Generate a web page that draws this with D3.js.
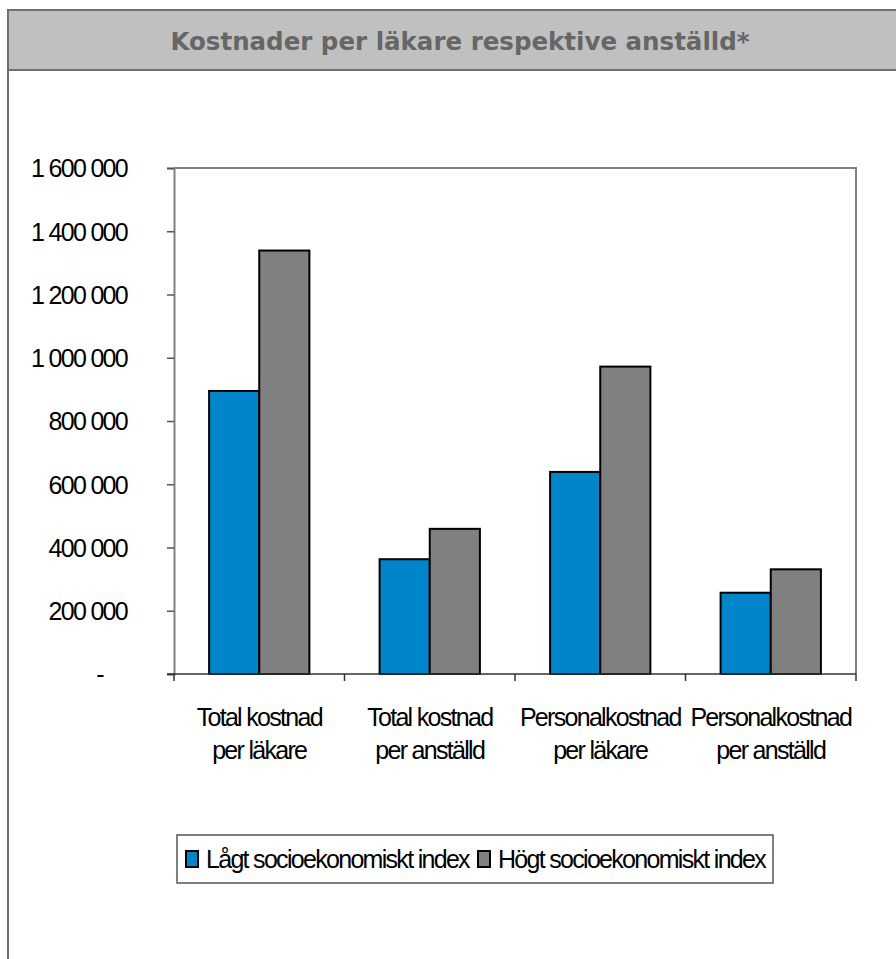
<!DOCTYPE html>
<html><head><meta charset="utf-8">
<script src="https://cdn.jsdelivr.net/npm/d3@7"></script>
<style>
html,body{margin:0;padding:0;background:#fff;}
svg{display:block;}
</style></head>
<body>
<script>
const title = "Kostnader per läkare respektive anställd*";
const categories = [
  ["Total kostnad", "per läkare"],
  ["Total kostnad", "per anställd"],
  ["Personalkostnad", "per läkare"],
  ["Personalkostnad", "per anställd"]
];
const seriesNames = ["Lågt socioekonomiskt index", "Högt socioekonomiskt index"];
const seriesColors = ["#0084CA", "#808080"];
const lowValues = [895000, 363000, 639000, 257000];
const highValues = [1339000, 459000, 972000, 331000];
const yTicks = [0, 200000, 400000, 600000, 800000, 1000000, 1200000, 1400000, 1600000];
const yTickLabels = ["-", "200 000", "400 000", "600 000", "800 000", "1 000 000", "1 200 000", "1 400 000", "1 600 000"];

const W = 896, H = 959;
const svg = d3.select("body").append("svg").attr("width", W).attr("height", H);

// outer frame
svg.append("rect").attr("x", 8).attr("y", 10).attr("width", 900).attr("height", 960)
  .attr("fill", "#fff").attr("stroke", "#707070").attr("stroke-width", 2);
// header band
svg.append("rect").attr("x", 8).attr("y", 10).attr("width", 900).attr("height", 60)
  .attr("fill", "#C0C0C0").attr("stroke", "#707070").attr("stroke-width", 2);
svg.append("text").attr("x", 460).attr("y", 50).attr("text-anchor", "middle")
  .attr("font-family", "DejaVu Sans, Verdana, sans-serif").attr("font-weight", "bold")
  .attr("font-size", 24.5).attr("fill", "#666666").text(title);

const plot = {left: 174, right: 856, top: 168, bottom: 674};
const keys = categories.map((c, i) => i);
const x0 = d3.scaleBand().domain(keys).range([plot.left, plot.right]).paddingInner(0).paddingOuter(0);
const x1 = d3.scaleBand().domain([0, 1]).range([0, x0.bandwidth()]).paddingInner(0).paddingOuter(0.7);
const y = d3.scaleLinear().domain([0, 1600000]).range([plot.bottom, plot.top]);

const fontAxis = "Liberation Sans, Arial, sans-serif";
const fs = 25, ls = "-1.7px";

// plot border top & right
svg.append("path").attr("d", `M${plot.left},${plot.top}H${plot.right}V${plot.bottom}`)
  .attr("fill", "none").attr("stroke", "#808080").attr("stroke-width", 2);

// bars
const data = [];
keys.forEach(k => {
  data.push({k, s: 0, v: lowValues[k]});
  data.push({k, s: 1, v: highValues[k]});
});
svg.append("g").selectAll("rect").data(data).join("rect")
  .attr("x", d => x0(d.k) + x1(d.s))
  .attr("y", d => y(d.v))
  .attr("width", x1.bandwidth())
  .attr("height", d => y(0) - y(d.v))
  .attr("fill", d => seriesColors[d.s])
  .attr("stroke", "#000").attr("stroke-width", 2);

// y axis
const yAxis = d3.axisLeft(y).tickValues(yTicks).tickSize(7).tickPadding(40)
  .tickFormat((d, i) => yTickLabels[i]);
const gy = svg.append("g").attr("transform", `translate(${plot.left},0)`).call(yAxis);
gy.select(".domain").attr("stroke", "#808080").attr("stroke-width", 2);
gy.selectAll(".tick line").attr("stroke", "#555").attr("stroke-width", 1.5);
gy.selectAll(".tick text").attr("font-family", fontAxis).attr("font-size", fs)
  .attr("letter-spacing", ls).attr("fill", "#000").attr("dy", "0.35em")
  .attr("dx", (d) => d === 0 ? -24 : 0);

// x axis
svg.append("line").attr("x1", plot.left - 7).attr("x2", plot.right).attr("y1", plot.bottom).attr("y2", plot.bottom)
  .attr("stroke", "#333").attr("stroke-width", 1.5);
const xb = keys.map(k => x0(k)).concat([plot.right]);
svg.append("g").selectAll("line").data(xb).join("line")
  .attr("x1", d => d).attr("x2", d => d).attr("y1", plot.bottom).attr("y2", plot.bottom + 7)
  .attr("stroke", "#333").attr("stroke-width", 1.5);
const gl = svg.append("g").selectAll("text").data(keys).join("text")
  .attr("x", k => x0(k) + x0.bandwidth() / 2)
  .attr("y", 726)
  .attr("text-anchor", "middle").attr("font-family", fontAxis).attr("font-size", fs)
  .attr("letter-spacing", ls).attr("fill", "#000");
gl.append("tspan").attr("x", k => x0(k) + x0.bandwidth() / 2).text(k => categories[k][0]);
gl.append("tspan").attr("x", k => x0(k) + x0.bandwidth() / 2).attr("dy", 33).text(k => categories[k][1]);

// legend
const leg = svg.append("g");
leg.append("rect").attr("x", 177).attr("y", 835).attr("width", 596).attr("height", 48)
  .attr("fill", "#fff").attr("stroke", "#555").attr("stroke-width", 1.5);
const legX = [186, 478];
seriesNames.forEach((n, i) => {
  leg.append("rect").attr("x", legX[i]).attr("y", 851).attr("width", 12).attr("height", 16)
    .attr("fill", seriesColors[i]).attr("stroke", "#000").attr("stroke-width", 2);
  leg.append("text").attr("x", legX[i] + 20).attr("y", 859).attr("dy", "0.35em")
    .attr("font-family", fontAxis).attr("font-size", fs).attr("letter-spacing", ls)
    .attr("fill", "#000").text(n);
});
</script>
</body></html>
